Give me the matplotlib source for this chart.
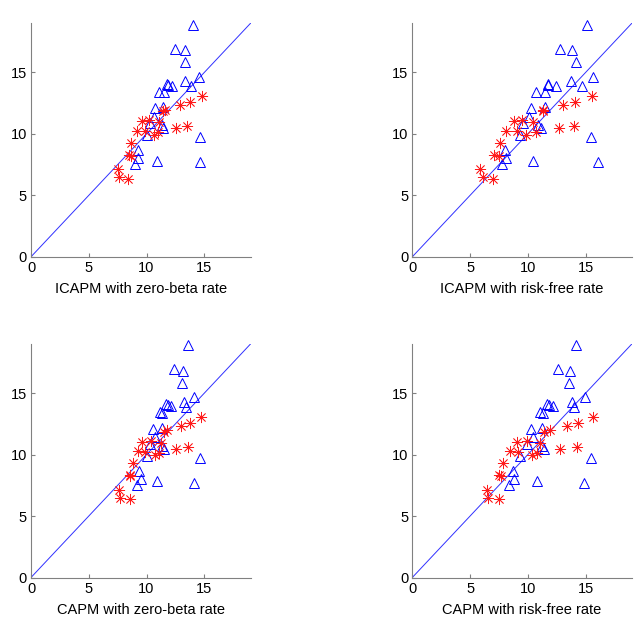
import matplotlib
matplotlib.use("Agg")
import matplotlib.pyplot as plt

plt.rcParams['font.family'] = ['Liberation Sans', 'DejaVu Sans']

titles = ["ICAPM with zero-beta rate", "ICAPM with risk-free rate",
          "CAPM with zero-beta rate", "CAPM with risk-free rate"]

tri_y = [18.9, 16.93, 16.8, 15.86, 14.65, 14.32, 13.9, 14.1, 13.93, 13.43, 13.38,
         12.07, 12.2, 11.4, 10.85, 10.7, 10.45, 9.92, 9.76, 8.68, 8.02, 7.52, 7.82,
         7.7, 14.0]
tri_x1 = [13.99, 12.43, 13.3, 13.36, 14.57, 13.36, 13.85, 11.73, 12.2, 11.04, 11.5,
          10.7, 11.39, 10.62, 10.32, 11.35, 11.4, 10.02, 14.63, 9.22, 9.22, 8.97, 10.9,
          14.63, 11.85]
tri_x2 = [15.08, 12.8, 13.8, 14.13, 15.6, 13.7, 14.7, 11.71, 12.43, 10.67, 11.45,
          10.27, 11.45, 10.1, 9.6, 10.9, 11.1, 9.3, 15.5, 8.0, 8.07, 7.8, 10.47,
          16.04, 11.75]
tri_x3 = [13.58, 12.34, 13.15, 13.06, 14.13, 13.27, 13.4, 11.68, 12.1, 11.13, 11.35,
          10.6, 11.33, 10.75, 10.3, 11.3, 11.47, 10.03, 14.65, 9.36, 9.54, 9.16, 10.9,
          14.08, 11.9]
tri_x4 = [14.16, 12.6, 13.64, 13.59, 14.94, 13.84, 14.0, 11.62, 12.2, 11.05, 11.28,
          10.27, 11.19, 10.47, 9.9, 11.2, 11.42, 9.32, 15.46, 8.68, 8.8, 8.36, 10.76,
          14.88, 11.85]

star_y = [13.07, 12.58, 12.36, 11.98, 11.84, 10.64, 10.46, 11.05, 11.1, 10.97, 10.27,
          10.25, 9.95, 10.17, 9.29, 8.31, 8.24, 7.15, 6.46, 6.37]
star_x1 = [14.8, 13.79, 12.92, 11.6, 11.45, 13.52, 12.53, 9.6, 10.23, 11.04, 9.17,
           9.83, 10.61, 10.99, 8.67, 8.44, 8.64, 7.52, 7.63, 8.38]
star_x2 = [15.58, 14.08, 13.07, 11.34, 11.28, 13.99, 12.72, 8.8, 9.46, 10.47, 8.1,
           9.09, 9.84, 10.7, 7.59, 7.07, 7.5, 5.86, 6.14, 7.0]
star_x3 = [14.74, 13.79, 12.98, 11.76, 11.53, 13.55, 12.54, 9.65, 10.38, 11.27, 9.3,
           9.83, 10.75, 11.04, 8.79, 8.58, 8.53, 7.63, 7.72, 8.53]
star_x4 = [15.6, 14.3, 13.41, 11.9, 11.39, 14.22, 12.78, 9.03, 9.89, 11.05, 8.45,
           9.17, 10.38, 10.76, 7.82, 7.53, 7.67, 6.43, 6.58, 7.5]

tri_xs = [tri_x1, tri_x2, tri_x3, tri_x4]
star_xs = [star_x1, star_x2, star_x3, star_x4]
line_pts = [0, 19]
ticks = [0, 5, 10, 15]

W, H = 639, 627
fig = plt.figure(figsize=(W / 100, H / 100), dpi=100)
boxes = [(31, 23.3), (412.3, 23.3), (31, 344), (412.3, 344)]
aw, ah = 219.5, 233.5

for i, (lx, ty) in enumerate(boxes):
    ax = fig.add_axes([lx / W, 1 - (ty + ah) / H, aw / W, ah / H])
    ax.plot(line_pts, line_pts, color='#3030ff', lw=0.7)
    ax.plot(tri_xs[i], tri_y, linestyle='none', marker='^', markersize=7.5,
            markerfacecolor='none', markeredgecolor='#0000ff', markeredgewidth=0.7,
            clip_on=False)
    ax.plot(star_xs[i], star_y, linestyle='none', marker=(8, 2, 0), markersize=8,
            color='#ff1a1a', markeredgewidth=0.55, clip_on=False)
    ax.set_xlim(0, 19)
    ax.set_ylim(0, 19)
    ax.set_xticks(ticks)
    ax.set_yticks(ticks)
    for s in ['top', 'right']:
        ax.spines[s].set_visible(False)
    for s in ['left', 'bottom']:
        ax.spines[s].set_color('#808080')
        ax.spines[s].set_linewidth(0.8)
    ax.tick_params(direction='in', length=3, width=0.8, color='#808080',
                   labelsize=10.5, labelcolor='black', pad=3)
    ax.set_xlabel(titles[i], fontsize=10.5, labelpad=5)

fig.savefig("out.png", dpi=100)
